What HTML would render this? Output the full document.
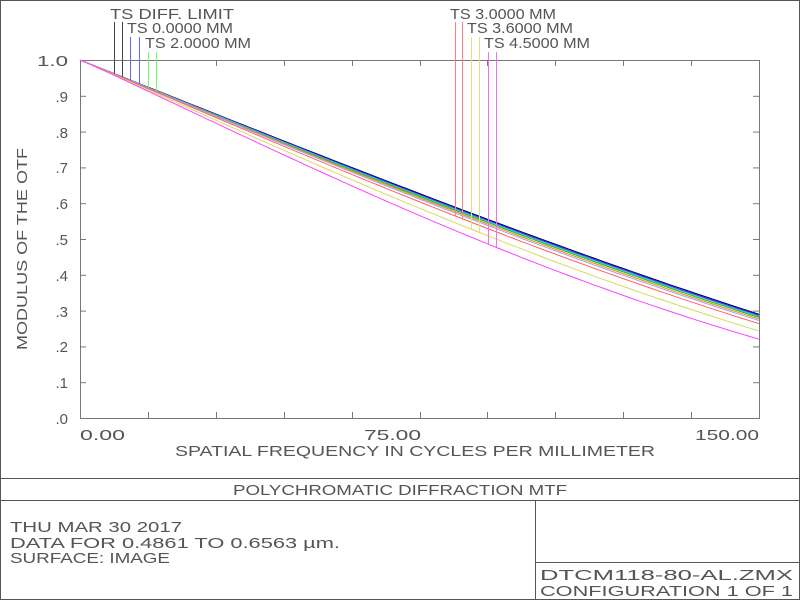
<!DOCTYPE html>
<html><head><meta charset="utf-8"><style>
html,body{margin:0;padding:0;background:#fff}
svg{display:block}
text{font-family:"Liberation Sans",sans-serif;fill:#555;font-size:15px}
</style></head><body>
<svg id="s" width="800" height="600" xmlns="http://www.w3.org/2000/svg">
<rect x="0.5" y="0.5" width="799" height="599" fill="#fff" stroke="#555"/>
<rect x="80.5" y="60.5" width="679" height="358" fill="none" stroke="#777"/>
<g id="ticks" stroke="#777"></g>
<g id="curves" fill="none" stroke-width="1"></g>
<g id="legl" stroke-width="1"></g>
<g>
<text x="37" y="66" textLength="31" lengthAdjust="spacingAndGlyphs">1.0</text>
<text x="68" y="102" text-anchor="end">.9</text>
<text x="68" y="138" text-anchor="end">.8</text>
<text x="68" y="173" text-anchor="end">.7</text>
<text x="68" y="209" text-anchor="end">.6</text>
<text x="68" y="245" text-anchor="end">.5</text>
<text x="68" y="281" text-anchor="end">.4</text>
<text x="68" y="317" text-anchor="end">.3</text>
<text x="68" y="352" text-anchor="end">.2</text>
<text x="68" y="388" text-anchor="end">.1</text>
<text x="68" y="424" text-anchor="end">.0</text>
<text x="80" y="440" textLength="45" lengthAdjust="spacingAndGlyphs">0.00</text>
<text x="364" y="440" textLength="57" lengthAdjust="spacingAndGlyphs">75.00</text>
<text x="695" y="440" textLength="64" lengthAdjust="spacingAndGlyphs">150.00</text>
<text x="175" y="456" textLength="480" lengthAdjust="spacingAndGlyphs">SPATIAL FREQUENCY IN CYCLES PER MILLIMETER</text>
<text transform="translate(27,350) rotate(-90)" textLength="202" lengthAdjust="spacingAndGlyphs">MODULUS OF THE OTF</text>
<text x="110" y="19" textLength="124" lengthAdjust="spacingAndGlyphs">TS DIFF. LIMIT</text>
<text x="127" y="33" textLength="106" lengthAdjust="spacingAndGlyphs">TS 0.0000 MM</text>
<text x="145" y="48" textLength="106" lengthAdjust="spacingAndGlyphs">TS 2.0000 MM</text>
<text x="450" y="19" textLength="106" lengthAdjust="spacingAndGlyphs">TS 3.0000 MM</text>
<text x="467" y="33" textLength="106" lengthAdjust="spacingAndGlyphs">TS 3.6000 MM</text>
<text x="484" y="48" textLength="106" lengthAdjust="spacingAndGlyphs">TS 4.5000 MM</text>
</g>
<g stroke="#555">
<line x1="0" y1="478.5" x2="800" y2="478.5"/>
<line x1="0" y1="500.5" x2="800" y2="500.5"/>
<line x1="535.5" y1="500" x2="535.5" y2="600"/>
<line x1="535" y1="562.5" x2="800" y2="562.5"/>
</g>
<text x="233" y="495" textLength="334" lengthAdjust="spacingAndGlyphs">POLYCHROMATIC DIFFRACTION MTF</text>
<text x="10" y="532" textLength="172" lengthAdjust="spacingAndGlyphs">THU MAR 30 2017</text>
<text x="10" y="548" textLength="330" lengthAdjust="spacingAndGlyphs">DATA FOR 0.4861 TO 0.6563 µm.</text>
<text x="10" y="563" textLength="160" lengthAdjust="spacingAndGlyphs">SURFACE: IMAGE</text>
<text x="540" y="580" font-size="16" textLength="253" lengthAdjust="spacingAndGlyphs">DTCM118-80-AL.ZMX</text>
<text x="540" y="596" font-size="16" textLength="253" lengthAdjust="spacingAndGlyphs">CONFIGURATION 1 OF 1</text>
</svg>
<script>
var NS="http://www.w3.org/2000/svg";
function el(p,n,a){var e=document.createElementNS(NS,n);for(var k in a)e.setAttribute(k,a[k]);p.appendChild(e);return e;}
var X=function(f){return 80+f*679/150},Y=function(m){return 418-m*358};
var tk=document.getElementById('ticks');
for(var i=1;i<10;i++){var y=Y(i/10)+0.5;el(tk,'line',{x1:80,y1:y,x2:86,y2:y});el(tk,'line',{x1:753,y1:y,x2:759,y2:y});}
for(var i=1;i<10;i++){var x=Math.round(X(i*15))+0.5;el(tk,'line',{x1:x,y1:418,x2:x,y2:412});el(tk,'line',{x1:x,y1:60,x2:x,y2:66});}
function D(f){var v=f/252;return 2/Math.PI*(Math.acos(v)-v*Math.sqrt(1-v*v));}
var cs=[["#222",0],["#000080",0.0],["#3333ff",0.01],["#00cc00",0.03],["#40c0c0",0.02],["#ff8000",0.045],["#a0a0ff",0.06],["#ff6060",0.09],["#d8d860",0.16],["#ff40ff",0.24]];
var cg=document.getElementById('curves');
cs.forEach(function(c){var d="";for(var f=0;f<=150;f+=2){var m=D(f)*(1-c[1]*Math.pow(f/150,1.3));d+=(f?"L":"M")+X(f).toFixed(1)+" "+Y(m).toFixed(1);}el(cg,'path',{d:d,stroke:c[0]});});
var lg=document.getElementById('legl');
var L=[[114,22,"#444",0],[122,22,"#444",0],[130,37,"#6666ff",0.01],[139,37,"#6666ff",0.01],[148,52,"#66ff66",0.03],[156,52,"#66ff66",0.03],
[455,22,"#ff8080",0.09],[462,22,"#ff8080",0.09],[471,37,"#e0e080",0.16],[479,37,"#e0e080",0.16],[488,52,"#ff66ff",0.24],[496,52,"#ff66ff",0.24]];
L.forEach(function(l){var f=(l[0]-80)*150/679;var idx=l[3];var m=D(f)*(1-idx*Math.pow(f/150,1.3));el(lg,'line',{x1:l[0]+0.5,y1:l[1],x2:l[0]+0.5,y2:Y(m),stroke:l[2]});});
</script>
</body></html>
